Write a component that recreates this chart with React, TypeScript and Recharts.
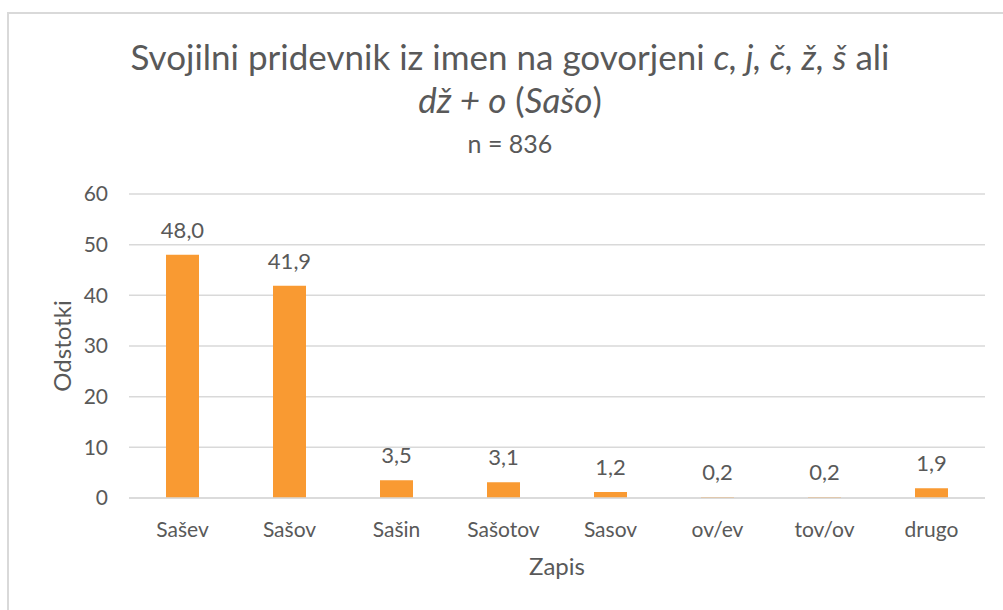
import { BarChart, Bar, XAxis, YAxis, CartesianGrid, LabelList } from "recharts";

const categories = ["Sašev", "Sašov", "Sašin", "Sašotov", "Sasov", "ov/ev", "tov/ov", "drugo"];
const percentages = [48.0, 41.9, 3.5, 3.1, 1.2, 0.2, 0.2, 1.9];
const yTicks = [0, 10, 20, 30, 40, 50, 60];

const data = categories.map((zapis, i) => ({ zapis, odstotki: percentages[i] }));

const FONT = "Lato, 'Open Sans', sans-serif";
const TEXT = "#595959";

const titleLine = (top: number, size: number, lh: number): React.CSSProperties => ({
  position: "absolute",
  left: 10,
  width: 1000,
  top,
  textAlign: "center",
  color: TEXT,
  fontSize: size,
  lineHeight: `${lh}px`,
  whiteSpace: "nowrap",
});

export default function App() {
  return (
    <div
      style={{
        position: "absolute",
        left: 0,
        top: 0,
        width: 1003,
        height: 610,
        overflow: "hidden",
        background: "#fff",
        fontFamily: FONT,
      }}
    >
      <div
        style={{
          position: "absolute",
          left: 7,
          top: 12,
          width: 1020,
          height: 620,
          border: "2px solid #d9d9d9",
        }}
      />
      <div style={titleLine(36, 35, 40)}>
        Svojilni pridevnik iz imen na govorjeni <i>c, j, č, ž, š</i> ali
      </div>
      <div style={titleLine(79, 35, 40)}>
        <i>dž + o</i> (<i>Sašo</i>)
      </div>
      <div style={titleLine(128, 25, 30)}>n = 836</div>
      <div style={{ position: "absolute", left: 0, top: 0 }}>
        <BarChart
          width={1003}
          height={610}
          data={data}
          margin={{ top: 194, right: 18, left: 69, bottom: 82 }}
          barSize={33}
        >
          <CartesianGrid vertical={false} stroke="#d9d9d9" strokeWidth={1.5} />
          <XAxis
            dataKey="zapis"
            axisLine={{ stroke: "#d9d9d9", strokeWidth: 1.5 }}
            tickLine={false}
            tickSize={0}
            tickMargin={24}
            tick={{ fill: TEXT, fontSize: 21, fontFamily: FONT }}
            interval={0}
            label={{
              value: "Zapis",
              position: "bottom",
              offset: 30,
              fill: TEXT,
              fontSize: 24,
              fontFamily: FONT,
            }}
          />
          <YAxis
            width={60}
            domain={[0, 60]}
            ticks={yTicks}
            axisLine={false}
            tickLine={false}
            tickSize={0}
            tickMargin={21}
            tick={{ fill: TEXT, fontSize: 21, fontFamily: FONT }}
            label={{
              value: "Odstotki",
              angle: -90,
              position: "insideLeft",
              offset: -7,
              fill: TEXT,
              fontSize: 24,
              fontFamily: FONT,
              style: { textAnchor: "middle" },
            }}
          />
          <Bar dataKey="odstotki" fill="#f99a32" isAnimationActive={false}>
            <LabelList
              dataKey="odstotki"
              position="top"
              offset={17}
              fill={TEXT}
              fontSize={22}
              fontFamily={FONT}
              formatter={(v: number) => v.toFixed(1).replace(".", ",")}
            />
          </Bar>
        </BarChart>
      </div>
    </div>
  );
}
